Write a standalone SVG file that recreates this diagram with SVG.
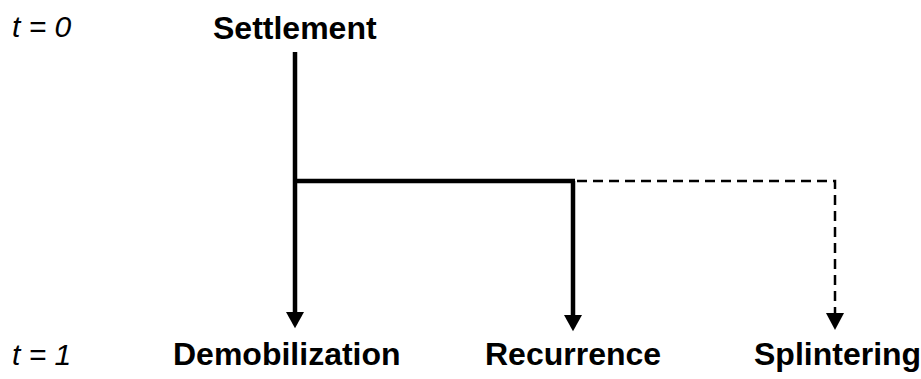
<svg xmlns="http://www.w3.org/2000/svg" width="921" height="379" viewBox="0 0 921 379">
<style>
.lbl{font-family:"Liberation Sans",Arial,sans-serif;font-weight:bold;font-size:32px;fill:#000}
.t{font-family:"Liberation Sans",Arial,sans-serif;font-style:italic;font-size:30px;fill:#000}
.solid{stroke:#000;stroke-width:4.5;fill:none}
.dash{stroke:#000;stroke-width:2.5;fill:none;stroke-dasharray:10 6}
</style>
<defs>
<marker id="ah" markerUnits="userSpaceOnUse" markerWidth="20" markerHeight="18" refX="0" refY="10" orient="auto" viewBox="0 0 18 20">
<path d="M0,0 L18,10 L0,20 Z" fill="#000"/>
</marker>
<marker id="ahs" markerUnits="userSpaceOnUse" markerWidth="17" markerHeight="18" refX="0" refY="9" orient="auto" viewBox="0 0 17 18">
<path d="M0,0 L17,9 L0,18 Z" fill="#000"/>
</marker>
</defs>
<text class="t" x="12" y="37">t = 0</text>
<text class="t" x="12" y="365">t = 1</text>
<g id="settlement"><text class="lbl" x="213" y="39">Settlement</text></g>
<g id="demobilization"><text class="lbl" x="173" y="365">Demobilization</text></g>
<g id="recurrence"><text class="lbl" x="485" y="365">Recurrence</text></g>
<g id="splintering"><text class="lbl" x="754" y="365">Splintering</text></g>
<g id="connectors">
<line class="solid" x1="295" y1="52" x2="295" y2="312" marker-end="url(#ah)"/>
<line class="solid" x1="293" y1="181" x2="575" y2="181"/>
<line class="solid" x1="573" y1="181" x2="573" y2="315" marker-end="url(#ah)"/>
<path class="dash" d="M577,181 L835,181 L835,313" marker-end="url(#ahs)"/>
</g>
</svg>
